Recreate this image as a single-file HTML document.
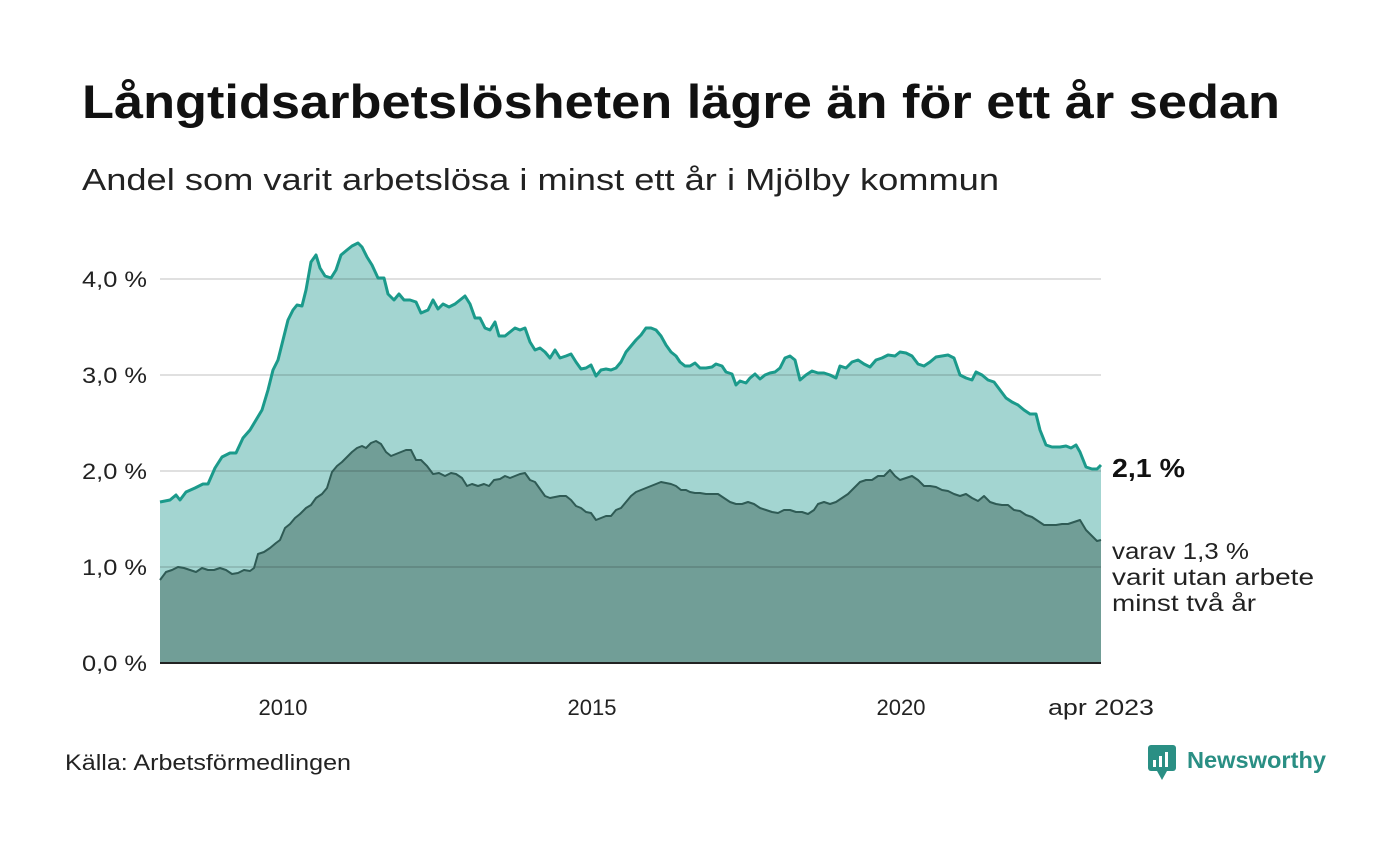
<!DOCTYPE html>
<html><head><meta charset="utf-8"><style>
html,body{margin:0;padding:0;background:#fff;}
body{width:1400px;height:840px;overflow:hidden;font-family:"Liberation Sans","DejaVu Sans",sans-serif;}
</style></head><body>
<svg width="1400" height="840" viewBox="0 0 1400 840" xmlns="http://www.w3.org/2000/svg" font-family="'Liberation Sans','DejaVu Sans',sans-serif">
<rect width="1400" height="840" fill="#fff"/>
<text x="82" y="118" font-size="47" font-weight="bold" fill="#111" textLength="1198" lengthAdjust="spacingAndGlyphs">Långtidsarbetslösheten lägre än för ett år sedan</text>
<text x="82" y="190" font-size="31" fill="#222" textLength="917" lengthAdjust="spacingAndGlyphs">Andel som varit arbetslösa i minst ett år i Mjölby kommun</text>

<path fill="#a3d5d1" d="M160,663 L160,502 170,500 176,495 180,500 186,492 195,488 203,484 208,484 215,468 222,457 230,453 236,453 243,438 250,430 256,420 262,410 268,390 273,370 278,360 283,340 288,320 293,310 297,305 302,306 306,290 311,262 316,255 320,268 325,276 331,278 336,270 341,255 347,250 352,246 358,243 362,247 367,257 372,265 378,278 384,278 388,294 394,300 399,294 404,300 410,300 416,302 421,313 428,310 433,300 438,309 443,304 449,307 455,304 460,300 465,296 470,304 475,318 480,318 485,328 490,330 495,322 499,336 505,336 510,332 515,328 520,330 525,328 530,342 535,350 540,348 545,352 550,358 555,350 560,358 566,356 571,354 576,362 581,369 586,368 591,365 596,376 601,370 606,369 611,370 616,368 621,362 626,352 631,346 636,340 641,335 646,328 651,328 656,330 661,336 666,345 671,352 676,356 680,362 685,366 690,366 695,363 700,368 706,368 712,367 716,364 722,366 726,372 732,374 736,385 740,381 746,383 750,378 755,374 760,379 765,375 770,373 775,372 780,368 785,358 790,356 795,360 800,380 806,375 812,371 818,373 824,373 830,375 836,378 840,366 846,368 852,362 858,360 864,364 870,367 876,360 882,358 888,355 895,356 900,352 906,353 912,356 918,364 924,366 930,362 936,357 942,356 948,355 954,358 960,375 966,378 972,380 976,372 982,375 988,380 994,382 1000,390 1006,398 1012,402 1018,405 1024,410 1030,414 1036,414 1040,430 1046,445 1052,447 1060,447 1066,446 1071,448 1076,445 1080,452 1086,467 1092,469 1097,469 1101,465 L1101,663 Z"/>
<path fill="#719e97" d="M160,663 L160,580 166,572 172,570 178,567 184,568 190,570 196,572 202,568 208,570 214,570 220,568 226,570 232,574 238,573 244,570 250,571 254,568 258,554 264,552 270,548 276,543 280,540 285,528 290,524 295,518 300,514 306,508 311,505 316,498 322,494 327,488 332,472 337,466 342,462 347,457 352,452 357,448 362,446 366,448 371,443 376,441 381,444 386,452 391,456 396,454 401,452 406,450 411,450 416,460 421,460 427,466 433,474 439,473 445,476 451,473 456,474 462,478 467,486 472,484 478,486 484,484 489,486 494,480 500,479 505,476 510,478 515,476 520,474 525,473 530,480 535,482 540,489 545,496 550,498 555,497 560,496 566,496 571,500 576,506 581,508 586,512 591,513 596,520 601,518 606,516 611,516 616,510 621,508 626,502 631,496 636,492 641,490 646,488 651,486 656,484 661,482 666,483 671,484 676,486 681,490 686,490 690,492 695,493 700,493 706,494 712,494 718,494 724,498 730,502 736,504 742,504 748,502 754,504 760,508 766,510 772,512 778,513 784,510 790,510 796,512 802,512 808,514 814,510 818,504 824,502 830,504 836,502 842,498 848,494 854,488 860,482 866,480 872,480 878,476 884,476 890,470 895,476 900,480 906,478 912,476 918,480 924,486 930,486 936,487 942,490 948,491 954,494 960,496 966,494 972,498 978,501 984,496 990,502 996,504 1002,505 1008,505 1014,510 1020,511 1026,515 1032,517 1038,521 1044,525 1050,525 1056,525 1062,524 1068,524 1074,522 1080,520 1086,530 1092,536 1097,541 1101,540 L1101,663 Z"/>
<g stroke="#000" stroke-opacity="0.12" stroke-width="2">
<line x1="160" y1="279" x2="1101" y2="279"/>
<line x1="160" y1="375" x2="1101" y2="375"/>
<line x1="160" y1="471" x2="1101" y2="471"/>
<line x1="160" y1="567" x2="1101" y2="567"/>
</g>
<path fill="none" stroke="#1b9a8b" stroke-width="3" stroke-linejoin="round" d="M160,502 170,500 176,495 180,500 186,492 195,488 203,484 208,484 215,468 222,457 230,453 236,453 243,438 250,430 256,420 262,410 268,390 273,370 278,360 283,340 288,320 293,310 297,305 302,306 306,290 311,262 316,255 320,268 325,276 331,278 336,270 341,255 347,250 352,246 358,243 362,247 367,257 372,265 378,278 384,278 388,294 394,300 399,294 404,300 410,300 416,302 421,313 428,310 433,300 438,309 443,304 449,307 455,304 460,300 465,296 470,304 475,318 480,318 485,328 490,330 495,322 499,336 505,336 510,332 515,328 520,330 525,328 530,342 535,350 540,348 545,352 550,358 555,350 560,358 566,356 571,354 576,362 581,369 586,368 591,365 596,376 601,370 606,369 611,370 616,368 621,362 626,352 631,346 636,340 641,335 646,328 651,328 656,330 661,336 666,345 671,352 676,356 680,362 685,366 690,366 695,363 700,368 706,368 712,367 716,364 722,366 726,372 732,374 736,385 740,381 746,383 750,378 755,374 760,379 765,375 770,373 775,372 780,368 785,358 790,356 795,360 800,380 806,375 812,371 818,373 824,373 830,375 836,378 840,366 846,368 852,362 858,360 864,364 870,367 876,360 882,358 888,355 895,356 900,352 906,353 912,356 918,364 924,366 930,362 936,357 942,356 948,355 954,358 960,375 966,378 972,380 976,372 982,375 988,380 994,382 1000,390 1006,398 1012,402 1018,405 1024,410 1030,414 1036,414 1040,430 1046,445 1052,447 1060,447 1066,446 1071,448 1076,445 1080,452 1086,467 1092,469 1097,469 1101,465"/>
<path fill="none" stroke="#2f5b55" stroke-width="2" stroke-linejoin="round" d="M160,580 166,572 172,570 178,567 184,568 190,570 196,572 202,568 208,570 214,570 220,568 226,570 232,574 238,573 244,570 250,571 254,568 258,554 264,552 270,548 276,543 280,540 285,528 290,524 295,518 300,514 306,508 311,505 316,498 322,494 327,488 332,472 337,466 342,462 347,457 352,452 357,448 362,446 366,448 371,443 376,441 381,444 386,452 391,456 396,454 401,452 406,450 411,450 416,460 421,460 427,466 433,474 439,473 445,476 451,473 456,474 462,478 467,486 472,484 478,486 484,484 489,486 494,480 500,479 505,476 510,478 515,476 520,474 525,473 530,480 535,482 540,489 545,496 550,498 555,497 560,496 566,496 571,500 576,506 581,508 586,512 591,513 596,520 601,518 606,516 611,516 616,510 621,508 626,502 631,496 636,492 641,490 646,488 651,486 656,484 661,482 666,483 671,484 676,486 681,490 686,490 690,492 695,493 700,493 706,494 712,494 718,494 724,498 730,502 736,504 742,504 748,502 754,504 760,508 766,510 772,512 778,513 784,510 790,510 796,512 802,512 808,514 814,510 818,504 824,502 830,504 836,502 842,498 848,494 854,488 860,482 866,480 872,480 878,476 884,476 890,470 895,476 900,480 906,478 912,476 918,480 924,486 930,486 936,487 942,490 948,491 954,494 960,496 966,494 972,498 978,501 984,496 990,502 996,504 1002,505 1008,505 1014,510 1020,511 1026,515 1032,517 1038,521 1044,525 1050,525 1056,525 1062,524 1068,524 1074,522 1080,520 1086,530 1092,536 1097,541 1101,540"/>
<line x1="160" y1="663" x2="1101" y2="663" stroke="#222" stroke-width="2"/>

<g font-size="22" fill="#222" text-anchor="end">
<text x="147" y="287" textLength="65" lengthAdjust="spacingAndGlyphs">4,0 %</text>
<text x="147" y="383" textLength="65" lengthAdjust="spacingAndGlyphs">3,0 %</text>
<text x="147" y="479" textLength="65" lengthAdjust="spacingAndGlyphs">2,0 %</text>
<text x="147" y="575" textLength="65" lengthAdjust="spacingAndGlyphs">1,0 %</text>
<text x="147" y="671" textLength="65" lengthAdjust="spacingAndGlyphs">0,0 %</text>
</g>
<g font-size="22" fill="#222" text-anchor="middle">
<text x="283" y="715">2010</text>
<text x="592" y="715">2015</text>
<text x="901" y="715">2020</text>
<text x="1101" y="715" textLength="106" lengthAdjust="spacingAndGlyphs">apr 2023</text>
</g>
<text x="1112" y="477" font-size="26" font-weight="bold" fill="#111" textLength="73" lengthAdjust="spacingAndGlyphs">2,1 %</text>
<g font-size="23" fill="#222">
<text x="1112" y="559" textLength="137" lengthAdjust="spacingAndGlyphs">varav 1,3 %</text>
<text x="1112" y="585" textLength="202" lengthAdjust="spacingAndGlyphs">varit utan arbete</text>
<text x="1112" y="611" textLength="144" lengthAdjust="spacingAndGlyphs">minst två år</text>
</g>
<text x="65" y="770" font-size="22" fill="#222" textLength="286" lengthAdjust="spacingAndGlyphs">Källa: Arbetsförmedlingen</text>
<g>
<rect x="1148" y="745" width="28" height="26" rx="3" fill="#2a8f84"/>
<path d="M1157,771 L1162,780 L1167,771 Z" fill="#2a8f84"/>
<rect x="1153" y="760" width="3" height="7" fill="#fff"/>
<rect x="1159" y="756" width="3" height="11" fill="#fff"/>
<rect x="1165" y="752" width="3" height="15" fill="#fff"/>
<text x="1187" y="768" font-size="23" font-weight="bold" fill="#2a8f84" textLength="139" lengthAdjust="spacingAndGlyphs">Newsworthy</text>
</g>
</svg>
</body></html>
